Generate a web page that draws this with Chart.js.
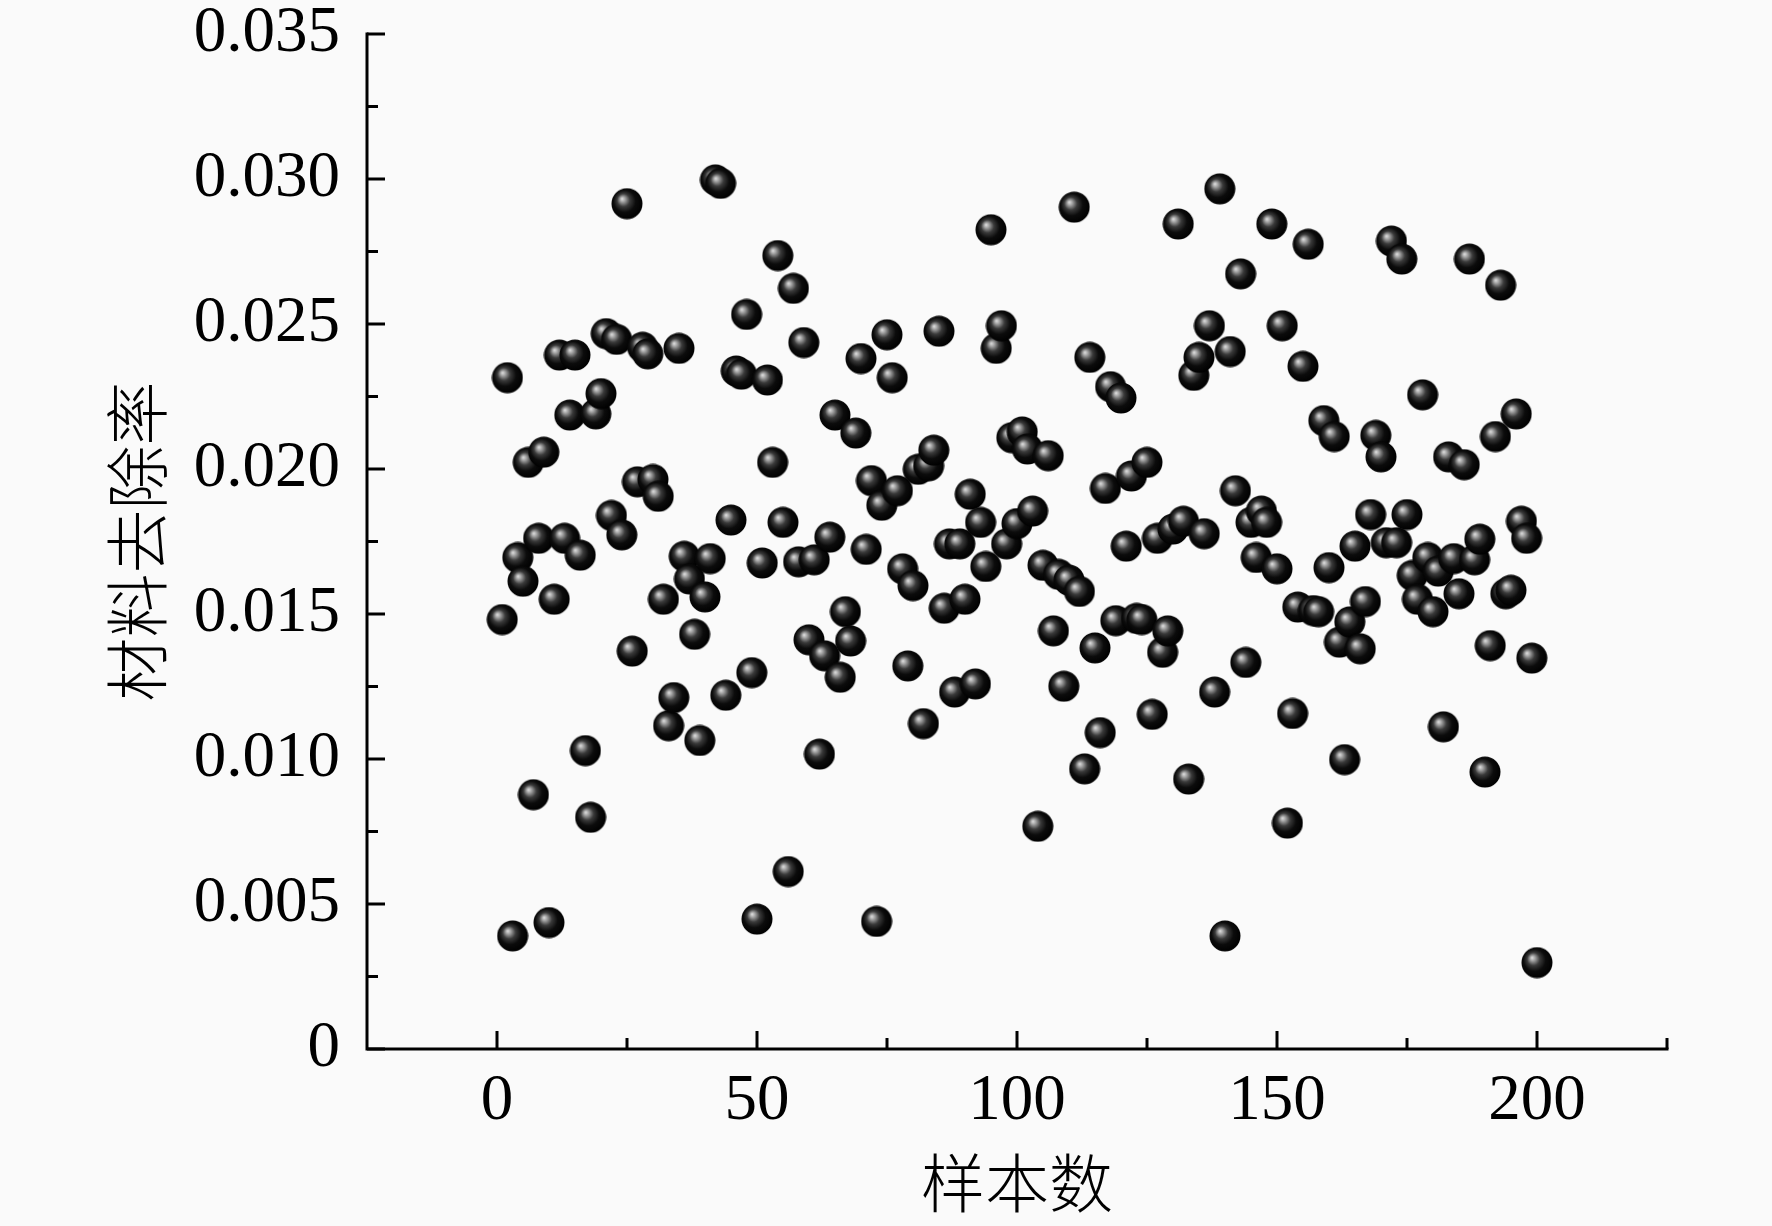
<!DOCTYPE html>
<html>
<head>
<meta charset="utf-8">
<script src="https://cdn.jsdelivr.net/npm/chart.js@4.4.1/dist/chart.umd.min.js"></script>
<style>
html,body{margin:0;padding:0;background:#fafafa;}
#wrap{width:1772px;height:1226px;}
</style>
</head>
<body>
<div id="wrap"><canvas id="c" width="1772" height="1226"></canvas></div>
<script>
// ---- data ----
const sampleNo = [1,2,3,4,5,6,7,8,9,10,11,12,13,14,15,16,17,18,19,20,
21,22,23,24,25,26,27,28,29,30,31,32,33,34,35,36,37,38,39,40,
41,42,43,44,45,46,47,48,49,50,51,52,53,54,55,56,57,58,59,60,
61,62,63,64,65,66,67,68,69,70,71,72,73,74,75,76,77,78,79,80,
81,82,83,84,85,86,87,88,89,90,91,92,93,94,95,96,97,98,99,100,
101,102,103,104,105,106,107,108,109,110,111,112,113,114,115,116,117,118,119,120,
121,122,123,124,125,126,127,128,129,130,131,132,133,134,135,136,137,138,139,140,
141,142,143,144,145,146,147,148,149,150,151,152,153,154,155,156,157,158,159,160,
161,162,163,164,165,166,167,168,169,170,171,172,173,174,175,176,177,178,179,180,
181,182,183,184,185,186,187,188,189,190,191,192,193,194,195,196,197,198,199,200];
const removalRate = [
0.01481,0.02315,0.0039,0.01695,0.01613,0.02023,0.00877,0.01761,0.02058,0.00436,
0.01551,0.02393,0.01761,0.02186,0.02393,0.01703,0.01029,0.00799,0.0219,0.0226,
0.02467,0.0184,0.02447,0.01773,0.02915,0.01372,0.01956,0.0242,0.02397,0.01964,
0.01906,0.01551,0.01115,0.01212,0.02416,0.01699,0.01621,0.0143,0.01064,0.01559,
0.01691,0.02997,0.02985,0.0122,0.01824,0.02338,0.02327,0.02533,0.01298,0.00448,
0.01676,0.02307,0.02023,0.02736,0.01816,0.00612,0.02623,0.0168,0.02436,0.01411,
0.01687,0.01017,0.01356,0.01765,0.02186,0.01282,0.01508,0.01407,0.02124,0.02381,
0.01723,0.0196,0.0044,0.01875,0.02463,0.02315,0.01925,0.01656,0.01321,0.01598,
0.01999,0.01122,0.02011,0.02065,0.02475,0.0152,0.01742,0.01231,0.01742,0.01551,
0.01913,0.01259,0.01816,0.01664,0.02825,0.02416,0.02494,0.01742,0.02108,0.01812,
0.02128,0.02069,0.01855,0.00768,0.01668,0.02046,0.01442,0.01637,0.01251,0.01617,
0.02903,0.01578,0.00966,0.02385,0.01383,0.01091,0.01933,0.02284,0.01477,0.02245,
0.01734,0.01976,0.01485,0.01481,0.02023,0.01154,0.01761,0.01368,0.01442,0.01793,
0.02845,0.0182,0.00931,0.02323,0.02385,0.01777,0.02494,0.01231,0.02966,0.0039,
0.02405,0.01925,0.02673,0.01333,0.01816,0.01695,0.01855,0.01816,0.02845,0.01656,
0.02494,0.00779,0.01157,0.01524,0.02354,0.02775,0.01512,0.01508,0.02167,0.0166,
0.02112,0.01403,0.00998,0.01473,0.01734,0.0138,0.01543,0.01843,0.02116,0.02042,
0.01746,0.02786,0.01746,0.02724,0.01843,0.01633,0.01551,0.02256,0.01695,0.01508,
0.01648,0.01111,0.02042,0.01691,0.0157,0.02015,0.02724,0.01687,0.01758,0.00955,
0.01391,0.02112,0.02634,0.0157,0.01582,0.0219,0.0182,0.01761,0.01348,0.00298];
const xTickLabels = [0,50,100,150,200];
const xMinorTicks = [25,75,125,175,225];
const yTickLabels = [0,0.005,0.010,0.015,0.020,0.025,0.030,0.035];
const yMinorTicks = [0.0025,0.0075,0.0125,0.0175,0.0225,0.0275,0.0325];
const xTitle = '样本数';
const yTitle = '材料去除率';

// ---- glossy ball marker ----
function makeBall(r){
  const cv = document.createElement('canvas');
  cv.width = 2*r; cv.height = 2*r;
  const g = cv.getContext('2d');
  const grad = g.createRadialGradient(r-5, r-5, 0, r-1, r-1, r+1);
  grad.addColorStop(0, '#e2e2e2');
  grad.addColorStop(0.14, '#a8a8a8');
  grad.addColorStop(0.38, '#3a3a3a');
  grad.addColorStop(0.65, '#0c0c0c');
  grad.addColorStop(1, '#000000');
  g.beginPath();
  g.arc(r, r, r-0.5, 0, Math.PI*2);
  g.fillStyle = grad;
  g.fill();
  return cv;
}
const ball = makeBall(16);

const points = sampleNo.map((x,i)=>({x:x, y:removalRate[i]}));

const axisPlugin = {
  id:'axisPlugin',
  afterDraw(chart){
    const ctx = chart.ctx;
    const xs = chart.scales.x, ys = chart.scales.y;
    const left = chart.chartArea.left, bottom = chart.chartArea.bottom;
    const topY = ys.getPixelForValue(yTickLabels[yTickLabels.length-1]);
    const rightX = xs.getPixelForValue(xMinorTicks[xMinorTicks.length-1]);
    ctx.save();
    ctx.strokeStyle = '#000';
    ctx.lineWidth = 3;
    ctx.lineCap = 'square';
    ctx.beginPath();
    ctx.moveTo(left, topY);
    ctx.lineTo(left, bottom);
    ctx.lineTo(rightX, bottom);
    ctx.stroke();
    ctx.lineCap = 'butt';
    ctx.beginPath();
    yTickLabels.forEach(v=>{const p=ys.getPixelForValue(v); ctx.moveTo(left,p); ctx.lineTo(left+18,p);});
    yMinorTicks.forEach(v=>{const p=ys.getPixelForValue(v); ctx.moveTo(left,p); ctx.lineTo(left+11,p);});
    xTickLabels.forEach(v=>{const p=xs.getPixelForValue(v); ctx.moveTo(p,bottom); ctx.lineTo(p,bottom-18);});
    xMinorTicks.forEach(v=>{const p=xs.getPixelForValue(v); ctx.moveTo(p,bottom); ctx.lineTo(p,bottom-11);});
    ctx.stroke();
    ctx.restore();
  }
};

const bgPlugin = {
  id:'bg',
  beforeDraw(chart){
    const ctx = chart.ctx;
    ctx.save();
    ctx.fillStyle = '#fafafa';
    ctx.fillRect(0,0,chart.width,chart.height);
    ctx.restore();
  }
};

const tickFont = {family:"'Liberation Serif','Times New Roman',serif", size:65, lineHeight:1.0};
const titleFont = {family:"'Noto Sans CJK SC','Noto Sans CJK JP',sans-serif", size:64, lineHeight:1.0, weight:'300'};

new Chart(document.getElementById('c'), {
  type:'scatter',
  data:{datasets:[{
    data: points,
    pointStyle: ball,
    pointRadius: 16,
    pointHoverRadius: 16
  }]},
  options:{
    responsive:false,
    devicePixelRatio:1,
    animation:false,
    events:[],
    layout:{padding:{left:0, top:34, right:105, bottom:0}},
    plugins:{legend:{display:false}, tooltip:{enabled:false}},
    scales:{
      x:{
        type:'linear', min:-25, max:225,
        grid:{display:false, drawTicks:false},
        border:{display:false},
        afterBuildTicks(s){ s.ticks = xTickLabels.map(v=>({value:v})); },
        afterFit(s){ s.height = 177; s.paddingLeft = 0; s.paddingRight = 0; },
        ticks:{font:tickFont, color:'#000', padding:20, maxRotation:0, autoSkip:false,
          callback:(v)=>String(v)},
        title:{display:true, text:xTitle, font:titleFont, color:'#000', padding:{top:0,bottom:11}}
      },
      y:{
        type:'linear', min:0, max:0.035,
        grid:{display:false, drawTicks:false},
        border:{display:false},
        afterBuildTicks(s){ s.ticks = yTickLabels.map(v=>({value:v})); },
        afterFit(s){ s.width = 367; s.paddingTop = 0; s.paddingBottom = 0; },
        ticks:{font:tickFont, color:'#000', padding:27, autoSkip:false,
          callback:(v)=> v===0 ? '0' : v.toFixed(3)},
        title:{display:true, text:yTitle, font:titleFont, color:'#000', padding:{top:105,bottom:0}}
      }
    }
  },
  plugins:[bgPlugin, axisPlugin]
});
</script>
</body>
</html>
